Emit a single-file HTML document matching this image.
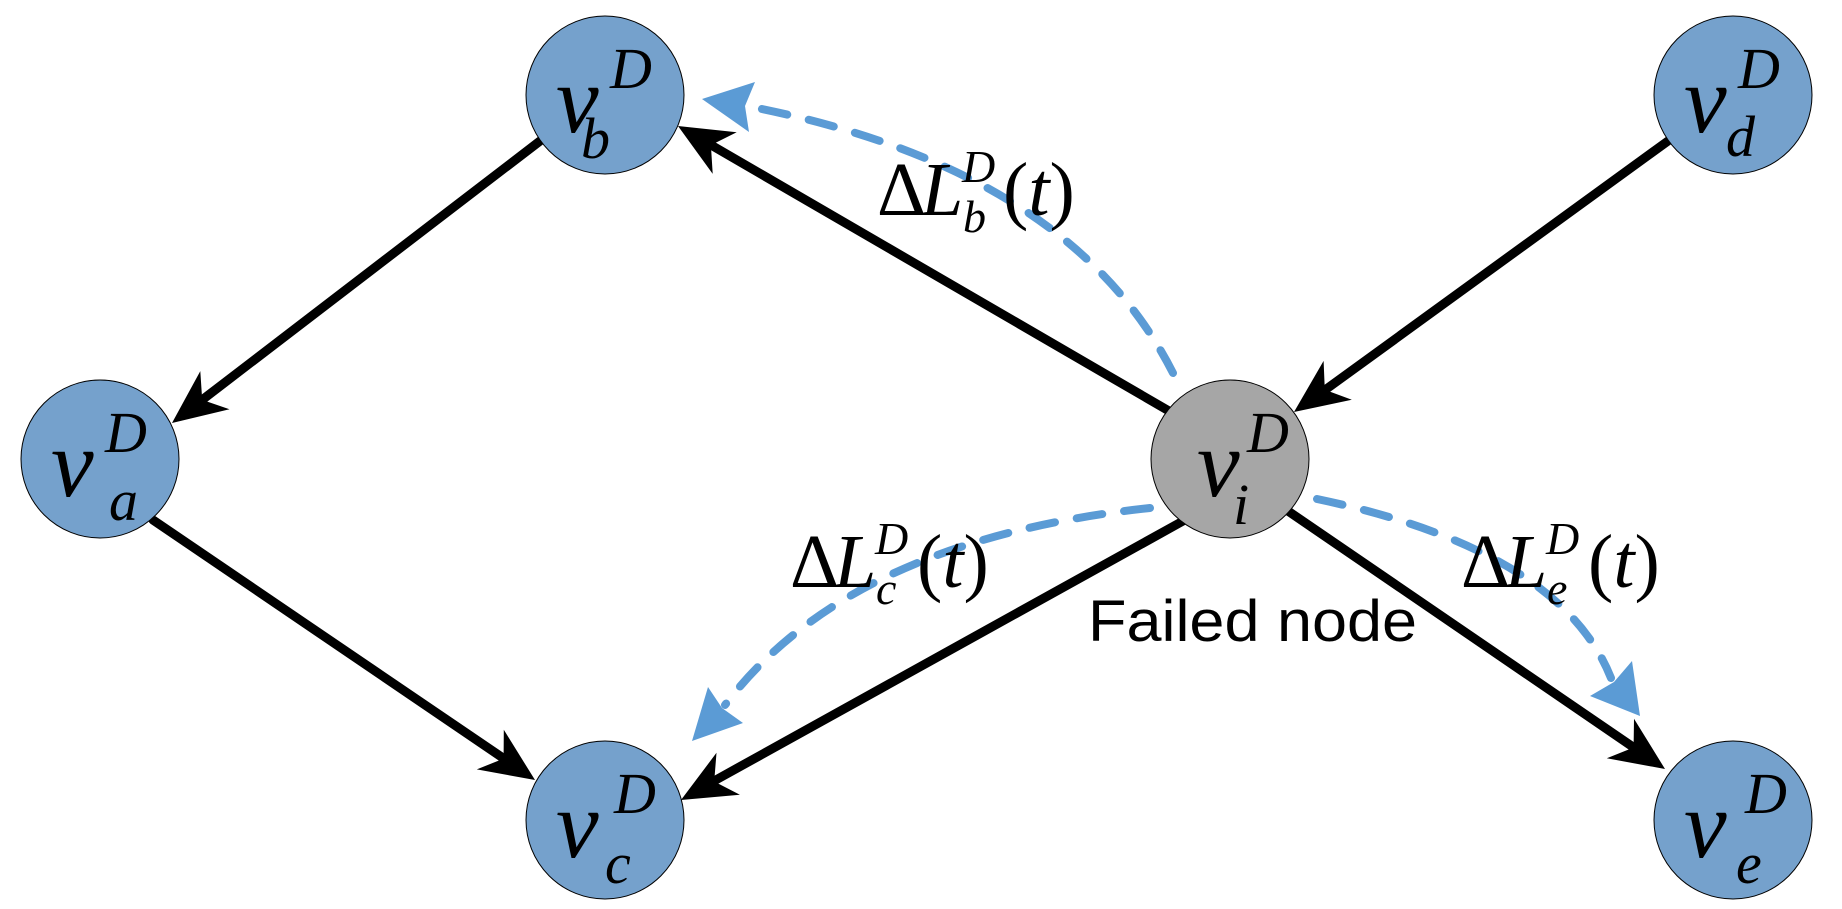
<!DOCTYPE html>
<html><head><meta charset="utf-8"><style>
html,body{margin:0;padding:0;background:#fff}
svg{display:block}
.tm{font-family:"Liberation Serif",serif;font-style:italic;fill:#000}
.up{font-family:"Liberation Serif",serif;fill:#000}
</style></head><body>
<svg width="1842" height="909" viewBox="0 0 1842 909" xmlns="http://www.w3.org/2000/svg">

<!-- black edges -->
<g stroke="#000" stroke-width="9" stroke-linecap="round" fill="none">
<line x1="540" y1="141" x2="202" y2="400"/>
<line x1="153" y1="520" x2="503" y2="758"/>
<line x1="1169" y1="411" x2="711" y2="145"/>
<line x1="1668" y1="141" x2="1325" y2="390"/>
<line x1="1183" y1="521" x2="714" y2="781"/>
<line x1="1288" y1="511" x2="1633" y2="747"/>
</g>
<g fill="#000">
<polygon points="172,423 200.3,371.1 202.2,399.9 229.5,409.3"/>
<polygon points="535,780 476.8,769.4 503.6,758.6 503.8,729.8"/>
<polygon points="678,126 736.7,132.3 710.9,145.1 712.7,173.9"/>
<polygon points="1294,412 1323.6,360.9 1324.8,389.7 1351.8,399.7"/>
<polygon points="681,800 716.5,752.8 714.2,781.5 739.9,794.8"/>
<polygon points="1665,769 1606.8,758.3 1633.6,747.5 1634,718.7"/>
</g>

<!-- nodes -->
<g stroke="#000" stroke-width="1">
<circle cx="605" cy="95" r="79" fill="#75a1cc"/>
<circle cx="100" cy="459" r="79" fill="#75a1cc"/>
<circle cx="605" cy="820" r="79" fill="#75a1cc"/>
<circle cx="1733" cy="95" r="79" fill="#75a1cc"/>
<circle cx="1733" cy="820" r="79" fill="#75a1cc"/>
<circle cx="1230" cy="459" r="79" fill="#a6a6a6"/>
</g>

<!-- dashed blue -->
<g stroke="#5b9bd5" stroke-width="8" stroke-linecap="round" stroke-dasharray="26 22" fill="none">
<path d="M1173,373 Q1070,170 752,107"/>
<path d="M1150,508 Q850,540 725,705"/>
<path d="M1317,499 Q1560,550 1611,678"/>
</g>
<g fill="#5b9bd5">
<polygon points="702,99 755,82 745,106 749,132"/>
<polygon points="692,741 708,687 722,708 743,723"/>
<polygon points="1640,716 1632,661 1614,682 1590,696"/>
</g>

<!-- node labels -->
<g>
<text class="tm" x="556" y="132" font-size="96">v</text><text class="tm" x="610" y="88" font-size="58">D</text><text class="tm" x="581" y="158" font-size="58">b</text>
<text class="tm" x="51" y="496" font-size="96">v</text><text class="tm" x="105" y="452" font-size="58">D</text><text class="tm" x="109" y="520" font-size="58">a</text>
<text class="tm" x="556" y="857" font-size="96">v</text><text class="tm" x="614" y="813" font-size="58">D</text><text class="tm" x="605" y="883" font-size="58">c</text>
<text class="tm" x="1684" y="132" font-size="96">v</text><text class="tm" x="1738" y="88" font-size="58">D</text><text class="tm" x="1726" y="156" font-size="58">d</text>
<text class="tm" x="1684" y="857" font-size="96">v</text><text class="tm" x="1745" y="813" font-size="58">D</text><text class="tm" x="1736" y="883" font-size="58">e</text>
<text class="tm" x="1197" y="496" font-size="96">v</text><text class="tm" x="1247" y="452" font-size="58">D</text><text class="tm" x="1233" y="524" font-size="58">i</text>
</g>

<!-- delta labels -->
<g>
<text class="up" x="877" y="215" font-size="76">Δ</text><text class="tm" x="921" y="215" font-size="76">L</text><text class="tm" x="962" y="182" font-size="46">D</text><text class="tm" x="963" y="232" font-size="46">b</text><text class="up" x="1003" y="215" font-size="76">(<tspan class="tm">t</tspan>)</text>

<text class="up" x="790" y="587" font-size="76">Δ</text><text class="tm" x="834" y="587" font-size="76">L</text><text class="tm" x="875" y="554" font-size="46">D</text><text class="tm" x="876" y="604" font-size="46">c</text><text class="up" x="917" y="587" font-size="76">(<tspan class="tm">t</tspan>)</text>

<text class="up" x="1461" y="587" font-size="76">Δ</text><text class="tm" x="1505" y="587" font-size="76">L</text><text class="tm" x="1546" y="554" font-size="46">D</text><text class="tm" x="1547" y="604" font-size="46">e</text><text class="up" x="1588" y="587" font-size="76">(<tspan class="tm">t</tspan>)</text>
</g>

<text x="1088" y="641" font-family="Liberation Sans, sans-serif" font-size="58" fill="#000" textLength="329" lengthAdjust="spacingAndGlyphs">Failed node</text>
</svg>
</body></html>
